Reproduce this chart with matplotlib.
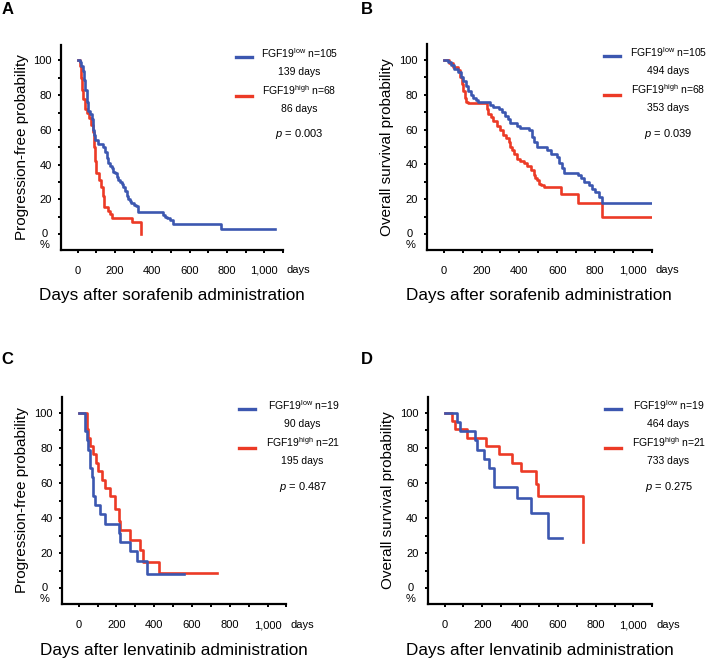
import matplotlib
matplotlib.use('Agg')
import matplotlib.pyplot as plt
import matplotlib.transforms as mtransforms
from matplotlib.ticker import MultipleLocator

plt.rcParams['font.family'] = ['Liberation Sans', 'DejaVu Sans']
plt.rcParams['mathtext.fontset'] = 'custom'
plt.rcParams['mathtext.rm'] = 'Liberation Sans'
plt.rcParams['mathtext.it'] = 'Liberation Sans:italic'
plt.rcParams['mathtext.bf'] = 'Liberation Sans:bold'

BLUE = '#3c57b0'
RED = '#ec3a26'

# --- Kaplan-Meier step data (days, % surviving after each step) ---
# A: PFS, sorafenib
a_low_t = [0, 10, 20, 28, 35, 40, 48, 55, 66, 75, 82, 88, 95, 110, 135, 144, 155, 163, 172, 181,
           190, 199, 208, 217, 226, 235, 244, 252, 262, 270, 280, 288, 300, 314, 323, 457, 466, 480, 493, 510,
           768, 1060]
a_low_s = [100, 99, 97, 94, 89, 83, 76, 71, 69, 66, 60, 57, 54, 52, 50, 47, 44, 41, 39, 38,
           36, 35, 33, 31, 30, 29, 27, 25, 22, 20, 19, 18, 17, 16, 12.5, 11, 10, 9, 8, 6,
           3, 3]
a_high_t = [0, 10, 18, 25, 30, 38, 48, 60, 70, 80, 86, 92, 98, 112, 125, 135, 142, 160, 175, 185, 290, 341]
a_high_s = [100, 97, 90, 83, 78, 72, 70, 67, 63, 59, 50, 42, 35, 31, 27, 22, 15.5, 13.5, 11.5, 9, 7, 0]

# B: OS, sorafenib
b_low_t = [0, 20, 40, 55, 76, 90, 103, 115, 130, 145, 156, 170, 183, 245, 263, 290, 308, 325, 340, 352,
           388, 405, 450, 467, 480, 494, 548, 565, 600, 610, 625, 637, 708, 725, 740, 770, 785, 800, 823, 840,
           1105]
b_low_s = [100, 99, 97, 95, 93, 90, 88, 85, 82, 80, 78, 77, 76, 74, 73, 72, 70, 68, 66, 64,
           62, 61, 60, 56, 53, 50, 48, 46, 44, 41, 38, 35, 34, 32, 30, 28, 26, 24, 21, 18,
           14]
b_high_t = [0, 30, 50, 76, 85, 95, 103, 112, 120, 130, 227, 236, 250, 263, 280, 298, 316, 330, 343, 352,
            362, 370, 388, 405, 423, 440, 460, 476, 485, 494, 503, 515, 530, 618, 712, 840, 1105]
b_high_s = [100, 98, 96, 94, 90, 86, 82, 78, 76, 75, 72, 69, 67, 65, 62, 60, 57, 55, 53, 50,
            48, 46, 43, 42, 41, 39, 37, 34, 32, 31, 29, 28, 27, 23, 18, 10, 10]

# C: PFS, lenvatinib
c_low_t = [0, 34, 42, 51, 60, 69, 78, 87, 113, 140, 211, 220, 274, 310, 363, 558]
c_low_s = [100, 89.5, 84.2, 78.9, 68.4, 63.2, 52.6, 47.4, 42.1, 36.8, 31.6, 26.3, 21.1, 15.8, 8.4, 8.4]
c_high_t = [0, 43, 50, 60, 78, 92, 104, 122, 140, 167, 194, 211, 220, 274, 327, 341, 425, 730]
c_high_s = [100, 90.5, 85.7, 81, 76.2, 71.4, 66.7, 61.9, 57.1, 52.4, 45, 38.1, 33.3, 27.6, 21.9, 15.2, 8.6, 8.6]

# D: OS, lenvatinib
d_low_t = [0, 66, 84, 164, 173, 208, 235, 261, 386, 457, 546, 620]
d_low_s = [100, 94.7, 89.5, 84.2, 78.9, 73.7, 68.4, 57.9, 51.5, 42.9, 28.6, 28.6]
d_high_t = [0, 39, 57, 119, 217, 288, 359, 404, 484, 493, 733]
d_high_s = [100, 95.2, 90.5, 85.7, 81, 76.2, 71.4, 66.7, 59.5, 52.4, 26.2]

panel_letters = ['A', 'B', 'C', 'D']
y_labels = ['Progression-free probability', 'Overall survival probability',
            'Progression-free probability', 'Overall survival probability']
x_labels = ['Days after sorafenib administration', 'Days after sorafenib administration',
            'Days after lenvatinib administration', 'Days after lenvatinib administration']
n_low = [105, 105, 19, 19]
n_high = [68, 68, 21, 21]
median_low = ['139 days', '494 days', '90 days', '464 days']
median_high = ['86 days', '353 days', '195 days', '733 days']
p_values = ['0.003', '0.039', '0.487', '0.275']

x_ticks = [0, 200, 400, 600, 800, 1000]
x_tick_labels = ['0', '200', '400', '600', '800', '1,000']
y_ticks = [0, 20, 40, 60, 80, 100]
y_tick_labels = ['', '20', '40', '60', '80', '100']  # "0 / %" drawn separately

curves = [(a_low_t, a_low_s, a_high_t, a_high_s),
          (b_low_t, b_low_s, b_high_t, b_high_s),
          (c_low_t, c_low_s, c_high_t, c_high_s),
          (d_low_t, d_low_s, d_high_t, d_high_s)]

# axes boxes in figure fraction
boxes = [[0.086, 0.621, 0.313, 0.311],
         [0.602, 0.621, 0.317, 0.312],
         [0.087, 0.083, 0.317, 0.315],
         [0.603, 0.083, 0.317, 0.315]]
letter_pos = [(0.002, 0.997), (0.509, 0.997), (0.002, 0.466), (0.509, 0.466)]

fig = plt.figure(figsize=(7.09, 6.59), dpi=100)

for i in range(4):
    ax = fig.add_axes(boxes[i])
    lt, ls, ht, hs = curves[i]
    ax.plot(lt, ls, drawstyle='steps-post', color=BLUE, lw=1.9, zorder=3)
    ax.plot(ht, hs, drawstyle='steps-post', color=RED, lw=1.9, zorder=2)

    ax.set_xlim(-90, 1100)
    ax.set_ylim(-9, 109)
    ax.spines['top'].set_visible(False)
    ax.spines['right'].set_visible(False)
    for s in ['left', 'bottom']:
        ax.spines[s].set_linewidth(1.6)

    ax.set_xticks(x_ticks)
    ax.set_xticklabels(x_tick_labels)
    ax.set_yticks(y_ticks)
    ax.set_yticklabels(y_tick_labels)
    ax.xaxis.set_minor_locator(MultipleLocator(100))
    ax.yaxis.set_minor_locator(MultipleLocator(10))
    ax.tick_params(which='both', direction='out', length=2.5, width=1.4)
    ax.tick_params(axis='x', which='major', pad=9, labelsize=8)
    ax.tick_params(axis='y', which='major', pad=4, labelsize=8)

    trans = mtransforms.blended_transform_factory(ax.transAxes, ax.transData)
    ax.text(-0.074, 0, '0', transform=trans, ha='center', va='center', fontsize=8)
    ax.text(-0.074, -6, '%', transform=trans, ha='center', va='center', fontsize=8)
    ax.text(1.018, -0.098, 'days', transform=ax.transAxes, ha='left', va='center', fontsize=8)

    ax.set_ylabel(y_labels[i], fontsize=11)
    ax.yaxis.set_label_coords(-0.144, 0.5)
    ax.set_xlabel(x_labels[i], fontsize=12.3)
    ax.xaxis.set_label_coords(0.5, -0.185)

    # legend drawn by hand
    ax.plot([0.79, 0.86], [0.94, 0.94], transform=ax.transAxes, color=BLUE, lw=2.4, clip_on=False)
    ax.plot([0.79, 0.86], [0.752, 0.752], transform=ax.transAxes, color=RED, lw=2.4, clip_on=False)
    ax.text(1.075, 0.96, r'FGF19$^{\mathrm{low}}$ n=%d' % n_low[i], transform=ax.transAxes,
            ha='center', va='center', fontsize=7.5)
    ax.text(1.072, 0.868, median_low[i], transform=ax.transAxes, ha='center', va='center', fontsize=7.5)
    ax.text(1.075, 0.78, r'FGF19$^{\mathrm{high}}$ n=%d' % n_high[i], transform=ax.transAxes,
            ha='center', va='center', fontsize=7.5)
    ax.text(1.072, 0.688, median_high[i], transform=ax.transAxes, ha='center', va='center', fontsize=7.5)
    ax.text(1.075, 0.563, r'$p$ = ' + p_values[i], transform=ax.transAxes,
            ha='center', va='center', fontsize=8)

    fig.text(letter_pos[i][0], letter_pos[i][1], panel_letters[i], fontsize=12,
             fontweight='bold', ha='left', va='top')

fig.savefig('out.png', dpi=100)
